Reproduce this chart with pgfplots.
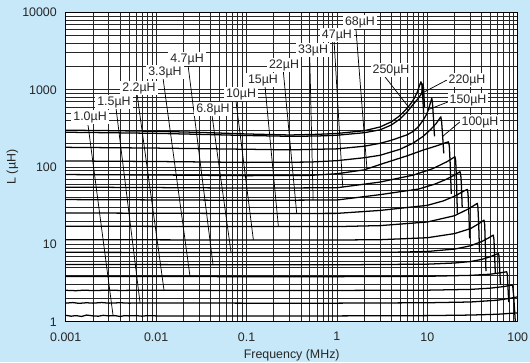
\documentclass[border=0pt]{standalone}
\usepackage{fontspec}
\setmainfont{Liberation Sans}
\usepackage{pgfplots}
\pgfplotsset{compat=1.18}
\definecolor{bgblue}{RGB}{198,232,248}
\begin{document}
\begin{tikzpicture}[x=1pt,y=1pt]
\fill[bgblue] (0,0) rectangle (397.5,271.5);
\useasboundingbox (0,0) rectangle (397.5,271.5);
\begin{axis}[
  at={(49.3pt,30.2pt)}, anchor=south west,
  scale only axis, width=339pt, height=232pt,
  xmode=log, ymode=log,
  xmin=0.001, xmax=100, ymin=1, ymax=10000,
  axis background/.style={fill=white},
  axis line style={black, line width=0.6pt},
  xtick={0.001,0.01,0.1,1,10,100},
  xticklabels={0.001,0.01,0.1,1,10,100},
  ytick={1,10,100,1000,10000},
  yticklabels={1,10,100,1000,10000},
  minor xtick={0.002,0.003,0.004,0.005,0.006,0.007,0.008,0.009,0.02,0.03,0.04,0.05,0.06,0.07,0.08,0.09,0.2,0.3,0.4,0.5,0.6,0.7,0.8,0.9,2,3,4,5,6,7,8,9,20,30,40,50,60,70,80,90},
  minor ytick={2,3,4,5,6,7,8,9,20,30,40,50,60,70,80,90,200,300,400,500,600,700,800,900,2000,3000,4000,5000,6000,7000,8000,9000},
  grid=both,
  major grid style={black!85, line width=0.55pt},
  minor grid style={black!85, line width=0.55pt},
  tick style={draw=none},
  ticklabel style={font=\fontsize{9.3}{11}\selectfont, text=black!85},
  xticklabel style={yshift=-4.5pt},
  yticklabel style={xshift=-3.2pt},
  xlabel={Frequency (MHz)}, ylabel={L (µH)},
  label style={font=\fontsize{9.3}{11}\selectfont, text=black!85},
  xlabel style={at={(axis description cs:0.5,0)}, anchor=north, yshift=-17pt},
  ylabel style={at={(axis description cs:0,0.5)}, anchor=center, rotate=0, yshift=40pt},
  cycle list={{black, solid, line width=0.95pt}},
  every axis plot post/.append style={black, solid, line width=0.95pt, mark=none, line join=round},
]
% 1.0 uH
\addplot coordinates {(0.001,1.21)(0.00115,1.18)(0.0013,1.2)(0.0015,1.17)(0.0017,1.22)(0.002,1.19)(0.0023,1.18)(0.0026,1.21)(0.003,1.19)(0.0035,1.2)(0.004,1.17)(0.0045,1.2)(0.005,1.19)(0.006,1.2)(0.007,1.18)(0.008,1.2)(0.01,1.19)(0.02,1.19)(0.1,1.19)(1,1.19)(10,1.2)(30,1.22)(60,1.25)(80,1.28)(100,1.3)};
% 1.5 uH
\addplot coordinates {(0.001,1.74)(0.0012,1.77)(0.0014,1.73)(0.0017,1.76)(0.002,1.74)(0.0025,1.77)(0.003,1.74)(0.004,1.76)(0.005,1.74)(0.007,1.75)(0.01,1.75)(0.1,1.74)(1,1.74)(10,1.76)(30,1.8)(60,1.9)(80,2.0)(100,2.1)};
% 2.2 uH
\addplot coordinates {(0.001,2.55)(0.0013,2.52)(0.0016,2.56)(0.002,2.53)(0.003,2.56)(0.004,2.54)(0.006,2.55)(0.01,2.55)(0.1,2.54)(1,2.54)(10,2.56)(30,2.62)(50,2.72)(70,2.85)(80,2.93)(86,2.98)(88,2.9)(90,2.2)(92,1.5)(94,1.0)};
% 3.3 uH
\addplot coordinates {(0.001,3.85)(0.01,3.84)(0.1,3.83)(1,3.83)(10,3.87)(30,3.98)(50,4.12)(65,4.3)(75.5,4.43)(76.7,4.1)(78,2.8)(79.5,1.8)};
% 4.7 uH
\addplot coordinates {(0.001,5.5)(0.01,5.48)(0.1,5.45)(1,5.45)(10,5.55)(20,5.75)(30,6.0)(40,6.4)(50,6.95)(57,7.4)(61,7.66)(62,7.2)(63,5.0)(64.5,3.0)};
% 6.8 uH
\addplot coordinates {(0.001,7.9)(0.01,7.88)(0.1,7.85)(1,7.85)(5,7.95)(10,8.1)(20,8.7)(30,9.6)(40,10.9)(48,12.2)(53.7,13.2)(54.6,11.5)(55.5,7)(56.5,4.2)};
% 10 uH
\addplot coordinates {(0.001,11.5)(0.01,11.45)(0.1,11.4)(1,11.4)(3,11.5)(10,12.2)(20,13.8)(30,16)(37,18.5)(42.4,20.6)(43.1,18)(43.8,10)(44.5,4.5)};
% 15 uH
\addplot coordinates {(0.001,17.2)(0.01,17.1)(0.1,17.0)(1,17.0)(3,17.5)(10,19.5)(20,23.5)(28,28.5)(33,32)(35.7,34)(36.3,30)(37,18)(37.8,8)};
% 22 uH
\addplot coordinates {(0.001,25.5)(0.01,25.3)(0.1,25.1)(1,25.2)(3,27.5)(10,32)(15,36.5)(20,42)(25,48.5)(27.7,51.5)(28.2,45)(28.8,25)(29.4,12)};
% 33 uH
\addplot coordinates {(0.001,38)(0.01,37.6)(0.1,37.2)(1,37.5)(3,44)(8,52)(12,60)(16,69)(20,79)(23,87)(23.4,80)(23.8,60)(24.3,30)};
% 47 uH
\addplot coordinates {(0.001,55)(0.01,54.3)(0.1,53.5)(1,54)(3,64)(7,78.8)(11.6,96)(16.4,117)(19,130)(20.2,136)(20.6,120)(21,70)(21.5,25)};
% 68 uH
\addplot coordinates {(0.001,80)(0.01,79)(0.1,77.5)(0.5,78)(1,82)(2,92)(3,108)(6,140)(9,166)(13,190)(16,207)(17.1,212)(17.5,190)(17.9,110)(18.4,45)};
% 100 uH
\addplot coordinates {(0.001,120)(0.01,118)(0.1,115)(0.5,116)(1,121)(2,132)(3,142)(5,170)(7,205)(9,250)(11,310)(12.5,365)(13.5,415)(14.1,447)(14.4,380)(14.7,274)(15.2,150)};
% 150 uH
\addplot coordinates {(0.001,180)(0.01,176)(0.1,170)(0.3,167)(1,172)(2,186)(3,203)(4,222)(5,243)(6,262)(7,290)(8,335)(9,405)(9.8,480)(10.3,555)(10.7,650)(11.2,775)(11.4,680)(11.7,420)(12,250)};
% 220 uH
\addplot coordinates {(0.001,282)(0.003,278)(0.01,273)(0.03,265)(0.1,256)(0.3,250)(0.6,252)(1,258)(2,278)(3,303)(4,350)(5,420)(6,520)(7,650)(8,780)(8.67,900)(8.85,1080)(8.95,1200)(9.1,1000)(9.3,600)};
% 250 uH
\addplot coordinates {(0.001,300)(0.003,296)(0.01,290)(0.03,281)(0.1,268)(0.3,260)(0.6,265)(1,272)(2,295)(3,330)(4,385)(4.78,447)(5.5,520)(6.17,602)(6.8,700)(7.31,811)(7.8,950)(8.1,1092)(8.5,1267)(8.7,1150)(8.9,800)(9.1,500)};
% leader lines
\begin{scope}[line width=0.55pt]
\draw (axis cs:0.001765,349) -- (axis cs:0.00334,1.2);
\draw (axis cs:0.0036,579) -- (axis cs:0.00664,1.75);
\draw (axis cs:0.00615,879) -- (axis cs:0.01223,2.55);
\draw (axis cs:0.01192,1415) -- (axis cs:0.0237,3.85);
\draw (axis cs:0.02254,2083) -- (axis cs:0.04256,5.5);
\draw (axis cs:0.0415,470) -- (axis cs:0.0674,7.9);
\draw (axis cs:0.0766,699) -- (axis cs:0.119,11.45);
\draw (axis cs:0.160,1115) -- (axis cs:0.225,17.1);
\draw (axis cs:0.255,1742) -- (axis cs:0.359,25.2);
\draw (axis cs:0.50,2723) -- (axis cs:0.545,37.5);
\draw (axis cs:0.93,4256) -- (axis cs:1.16,54.5);
\draw (axis cs:1.62,6268) -- (axis cs:2.15,94);
\draw (axis cs:3.40,1470) -- (axis cs:6.17,602);
\draw (axis cs:16.4,1333) -- (axis cs:8.67,900);
\draw (axis cs:17.1,699) -- (axis cs:10.3,555);
\draw (axis cs:23.0,385) -- (axis cs:14.8,250);
\end{scope}
% labels
\begin{scope}[every node/.style={fill=white, inner xsep=1.5pt, inner ysep=1pt, font=\fontsize{9.3}{11}\selectfont, text=black!85}]
\node at (axis cs:0.001858,443) {1.0µH};
\node at (axis cs:0.00342,692) {1.5µH};
\node at (axis cs:0.00647,1050) {2.2µH};
\node at (axis cs:0.01253,1691) {3.3µH};
\node at (axis cs:0.02198,2489) {4.7µH};
\node at (axis cs:0.04256,562) {6.8µH};
\node at (axis cs:0.0869,879) {10µH};
\node at (axis cs:0.152,1333) {15µH};
\node at (axis cs:0.26,2083) {22µH};
\node at (axis cs:0.545,3258) {33µH};
\node at (axis cs:1.0,5090) {47µH};
\node at (axis cs:1.80,7495) {68µH};
\node at (axis cs:3.97,1795) {250µH};
\node at (axis cs:27.5,1333) {220µH};
\node at (axis cs:28.2,735) {150µH};
\node at (axis cs:38.3,382) {100µH};
\end{scope}
\end{axis}
\end{tikzpicture}
\end{document}
